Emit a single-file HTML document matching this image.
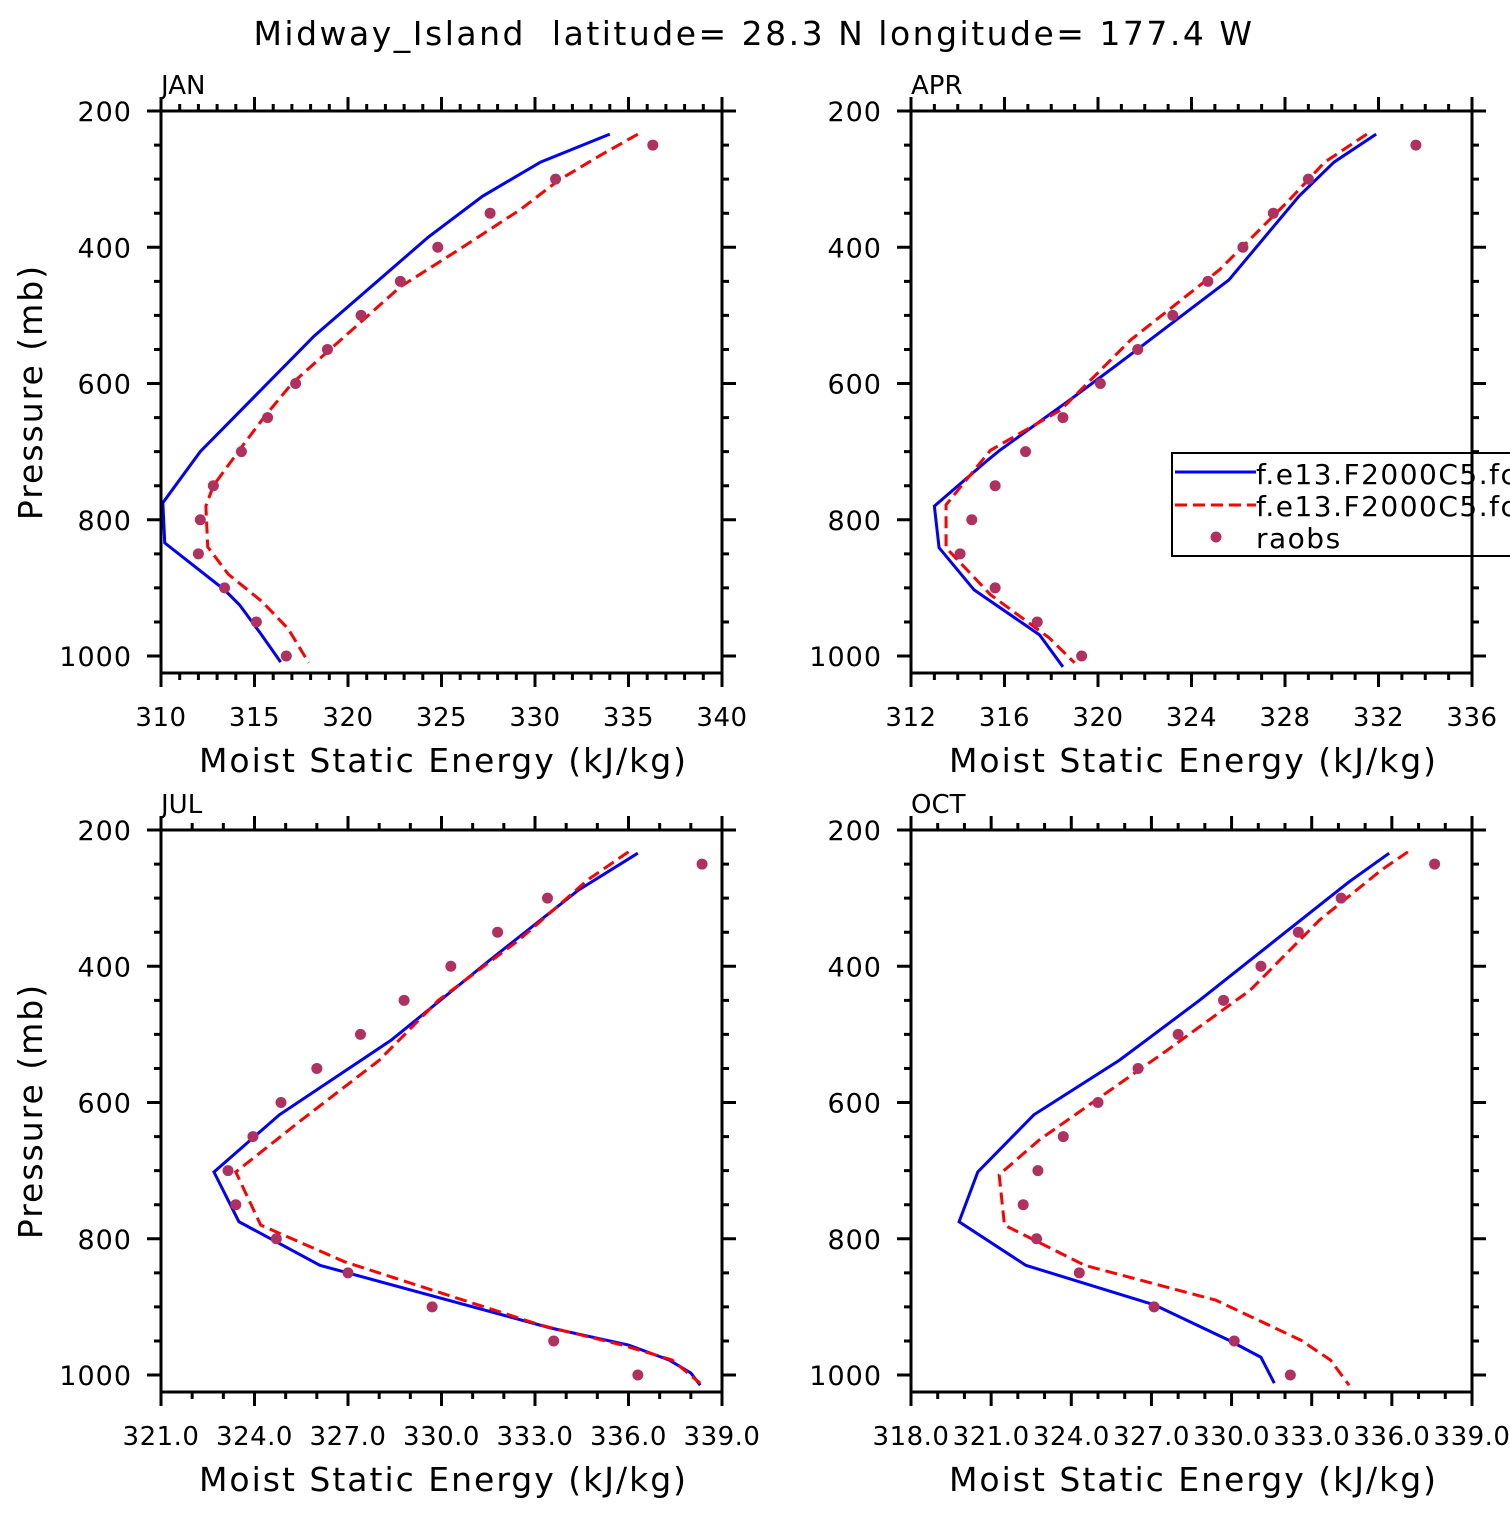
<!DOCTYPE html>
<html><head><meta charset="utf-8"><style>
body{margin:0;background:#fff}
svg text{font-family:"DejaVu Sans","Liberation Sans",sans-serif;fill:#000}
</style></head><body>
<svg id="c" width="1510" height="1510" xmlns="http://www.w3.org/2000/svg">
<text x="754" y="45" font-size="33" text-anchor="middle" style="letter-spacing:2.5px;white-space:pre">Midway_Island  latitude= 28.3 N longitude= 177.4 W</text>
</svg>
<script>
const obsP=[250,300,350,400,450,500,550,600,650,700,750,800,850,900,950,1000];
const janObs=[336.3,331.1,327.6,324.8,322.8,320.7,318.9,317.2,315.7,314.3,312.8,312.1,312.0,313.4,315.1,316.7];
const janBlueP=[234,275,325,385,530,700,775,834,903,925,966,1009];
const janBlue=[334.0,330.3,327.2,324.3,318.2,312.1,310.1,310.2,313.4,314.2,315.3,316.4];
const janRedP=[234,265,301,345,404,458,529,600,650,690,750,780,840,880,920,960,1010];
const janRed=[335.5,333.5,331.3,329.2,325.9,322.8,319.9,317.0,315.5,314.4,312.8,312.4,312.5,313.6,315.4,316.8,317.9];
const aprObs=[333.6,329.0,327.5,326.2,324.7,323.2,321.7,320.1,318.5,316.9,315.6,314.6,314.1,315.6,317.4,319.3];
const aprBlueP=[234,275,325,448,573,624,698,712,780,841,903,969,1016];
const aprBlue=[331.9,330.1,328.6,325.6,320.8,318.8,315.8,315.3,313.0,313.2,314.7,317.5,318.5];
const aprRedP=[234,275,330,433,536,639,698,778,841,910,973,1010];
const aprRed=[331.5,329.7,328.2,325.2,321.4,318.4,315.4,313.5,313.5,315.4,317.9,319.0];
const julObs=[338.36,333.4,331.8,330.3,328.8,327.4,326.0,324.85,323.95,323.15,323.4,324.7,327.0,329.7,333.6,336.3];
const julBlueP=[234,288,391,508,618,702,775,839,931,956,978,997,1015];
const julBlue=[336.3,334.4,331.55,328.4,324.8,322.7,323.5,326.1,333.5,336.0,337.3,338.0,338.3];
const julRedP=[232,273,361,450,538,626,702,780,834,927,956,978,1012];
const julRed=[336.0,334.7,332.5,329.9,328.0,325.5,323.4,324.2,326.9,333.2,335.8,337.4,338.3];
const octObs=[337.6,334.1,332.5,331.1,329.7,328.0,326.5,325.0,323.7,322.75,322.2,322.7,324.3,327.1,330.1,332.2];
const octBlueP=[234,276,450,538,618,702,775,839,897,949,974,1012];
const octBlue=[335.9,334.4,328.8,325.8,322.6,320.5,319.8,322.3,327.1,329.9,331.1,331.6];
const octRedP=[232,259,332,435,523,567,655,706,780,839,890,949,978,1015];
const octRed=[336.6,335.6,333.3,330.7,327.6,326.0,322.8,321.3,321.5,324.5,329.4,332.6,333.7,334.4];
const yTicks=[200,400,600,800,1000];
const janX=[310,315,320,325,330,335,340];
const aprX=[312,316,320,324,328,332,336];
const julX=[321,324,327,330,333,336,339];
const octX=[318,321,324,327,330,333,336,339];

const NS="http://www.w3.org/2000/svg";
const svg=document.getElementById('c');
function mk(tag,attrs,parent){const e=document.createElementNS(NS,tag);for(const k in attrs)e.setAttribute(k,attrs[k]);(parent||svg).appendChild(e);return e;}

function panel(name,L,T,xmin,xmax,xt,minorStep,lblFmt,blueP,blue,redP,red,obs,legend){
  const W=561,H=562,R=L+W,B=T+H;
  const g=mk('g',{});
  
  
  const sx=v=>L+(v-xmin)/(xmax-xmin)*W;
  const sy=p=>T+(p-200)*0.68125;
  const lab=mk('text',{x:L,y:T-17,'font-size':26},g);lab.textContent=name.toUpperCase();
  
  
  let d='';
  for(let p=200;p<=1000;p+=50){const y=sy(p),len=(p%200===0)?14:7;d+=`M${L},${y}h${-len}M${R},${y}h${len}`;}
  for(let v=xmin;v<=xmax+1e-6;v+=minorStep){const x=sx(v);const maj=xt.some(t=>Math.abs(t-v)<1e-6);const len=maj?14:7;d+=`M${x},${B}v${len}M${x},${T}v${-len}`;}
  const tk=mk('path',{d:d,stroke:'#000','stroke-width':3,fill:'none'},g);
  
  
  yTicks.forEach(p=>{const t=mk('text',{x:L-29,y:sy(p)+10,'font-size':27,'text-anchor':'end',style:'letter-spacing:1px'},g);t.textContent=p;
    
    });
  xt.forEach(v=>{const t=mk('text',{x:sx(v),y:B+53,'font-size':26,'text-anchor':'middle',style:'letter-spacing:0.5px'},g);t.textContent=lblFmt(v);
    
    });
  const xtl=mk('text',{x:L+W/2+2,y:B+99,'font-size':33,'text-anchor':'middle',style:'letter-spacing:2px'},g);xtl.textContent='Moist Static Energy (kJ/kg)';
  
  
  if(L<500){const yt=mk('text',{x:0,y:0,'font-size':33,'text-anchor':'middle',transform:`translate(42,${T+281}) rotate(-90)`,style:'letter-spacing:2px'},g);yt.textContent='Pressure (mb)';
    
    }
  const bl=mk('polyline',{points:blueP.map((p,i)=>sx(blue[i])+','+sy(p)).join(' '),fill:'none',stroke:'#0000ff','stroke-width':3},g);
  
  
  const rl=mk('polyline',{points:redP.map((p,i)=>sx(red[i])+','+sy(p)).join(' '),fill:'none',stroke:'#ff0000','stroke-width':3,'stroke-dasharray':'12,6'},g);
  
  
  obs.forEach((v,i)=>{const c=mk('circle',{cx:sx(v),cy:sy(obsP[i]),r:5.5,fill:'#b03060'},g);
    
    });
  if(legend){
    const lg=mk('g',{},g);
    
    
    mk('rect',{x:1172,y:453,width:400,height:103,fill:'#fff',stroke:'#000','stroke-width':2},lg);
    mk('line',{x1:1175,y1:472,x2:1256,y2:472,stroke:'#0000ff','stroke-width':3},lg);
    mk('line',{x1:1175,y1:505,x2:1256,y2:505,stroke:'#ff0000','stroke-width':3,'stroke-dasharray':'12,6'},lg);
    mk('circle',{cx:1216,cy:537,r:5.5,fill:'#b03060'},lg);
    [['f.e13.F2000C5.fc',484],['f.e13.F2000C5.fc',516],['raobs',548]].forEach(a=>{const t=mk('text',{x:1256,y:a[1],'font-size':28,style:'letter-spacing:1.5px'},lg);t.textContent=a[0];
      
      });
  }
  const bx=mk('rect',{x:L,y:T,width:W,height:H,fill:'none',stroke:'#000','stroke-width':3},g);
  
  
}
const i0=v=>String(v), f1=v=>v.toFixed(1);
panel('jan',161,111,310,340,janX,1,i0,janBlueP,janBlue,janRedP,janRed,janObs,false);
panel('apr',911,111,312,336,aprX,1,i0,aprBlueP,aprBlue,aprRedP,aprRed,aprObs,true);
panel('jul',161,830,321,339,julX,1,f1,julBlueP,julBlue,julRedP,julRed,julObs,false);
panel('oct',911,830,318,339,octX,1,f1,octBlueP,octBlue,octRedP,octRed,octObs,false);
</script>
</body></html>
